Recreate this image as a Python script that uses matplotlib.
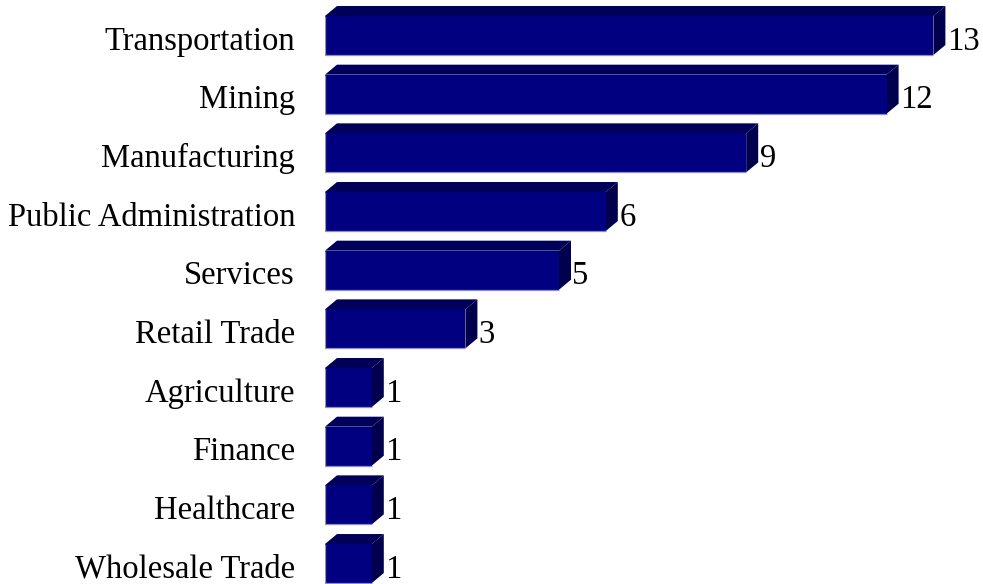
import matplotlib.pyplot as plt
from matplotlib.patches import Polygon

# Data (top to bottom)
categories = ["Transportation", "Mining", "Manufacturing", "Public Administration",
              "Services", "Retail Trade", "Agriculture", "Finance", "Healthcare",
              "Wholesale Trade"]
counts = [13, 12, 9, 6, 5, 3, 1, 1, 1, 1]

FRONT = "#000080"
TOP = "#00005a"
SIDE = "#00004c"
EDGE = "#8c8cc8"

plt.rcParams["font.family"] = ["Liberation Serif", "DejaVu Serif"]

fig = plt.figure(figsize=(9.83, 5.84), dpi=100)
ax = fig.add_axes([325 / 983, 0, (983 - 325) / 983, 1])

# pixel scale: 46.8 px per unit in x, 58.67 px per category in y
ax.set_xlim(0, (983 - 325) / 46.8)
ax.set_ylim((584 - 35.5) / 58.67, -35.5 / 58.67)

h = 39 / 58.67          # bar thickness
dx = 12 / 46.8          # depth offset x
dy = 10 / 58.67         # depth offset y (upwards)

ys = list(range(len(categories)))
ax.barh(ys, counts, height=h, color=FRONT, edgecolor="none", zorder=3)

for y, v, name in zip(ys, counts, categories):
    top = y - h / 2
    bot = y + h / 2
    # top face
    ax.add_patch(Polygon([(0, top), (dx, top - dy), (v + dx, top - dy), (v, top)],
                         closed=True, facecolor=TOP, edgecolor="none", zorder=2))
    # right face
    ax.add_patch(Polygon([(v, top), (v + dx, top - dy), (v + dx, bot - dy), (v, bot)],
                         closed=True, facecolor=SIDE, edgecolor="none", zorder=2))
    # light edges on front face
    ax.plot([0, 0, v], [top, bot, bot], color=EDGE, lw=0.9, zorder=4,
            solid_capstyle="butt")
    ax.text(v + dx + 0.03, y + 0.1, str(v), ha="left", va="center",
            fontsize=23.5, color="black")
    ax.text(-30 / 46.8, y + 0.1, name, ha="right", va="center",
            fontsize=23.5, color="black", clip_on=False)

ax.set_xticks([])
ax.set_yticks([])
for s in ax.spines.values():
    s.set_visible(False)

fig.savefig("out.png", dpi=100)
